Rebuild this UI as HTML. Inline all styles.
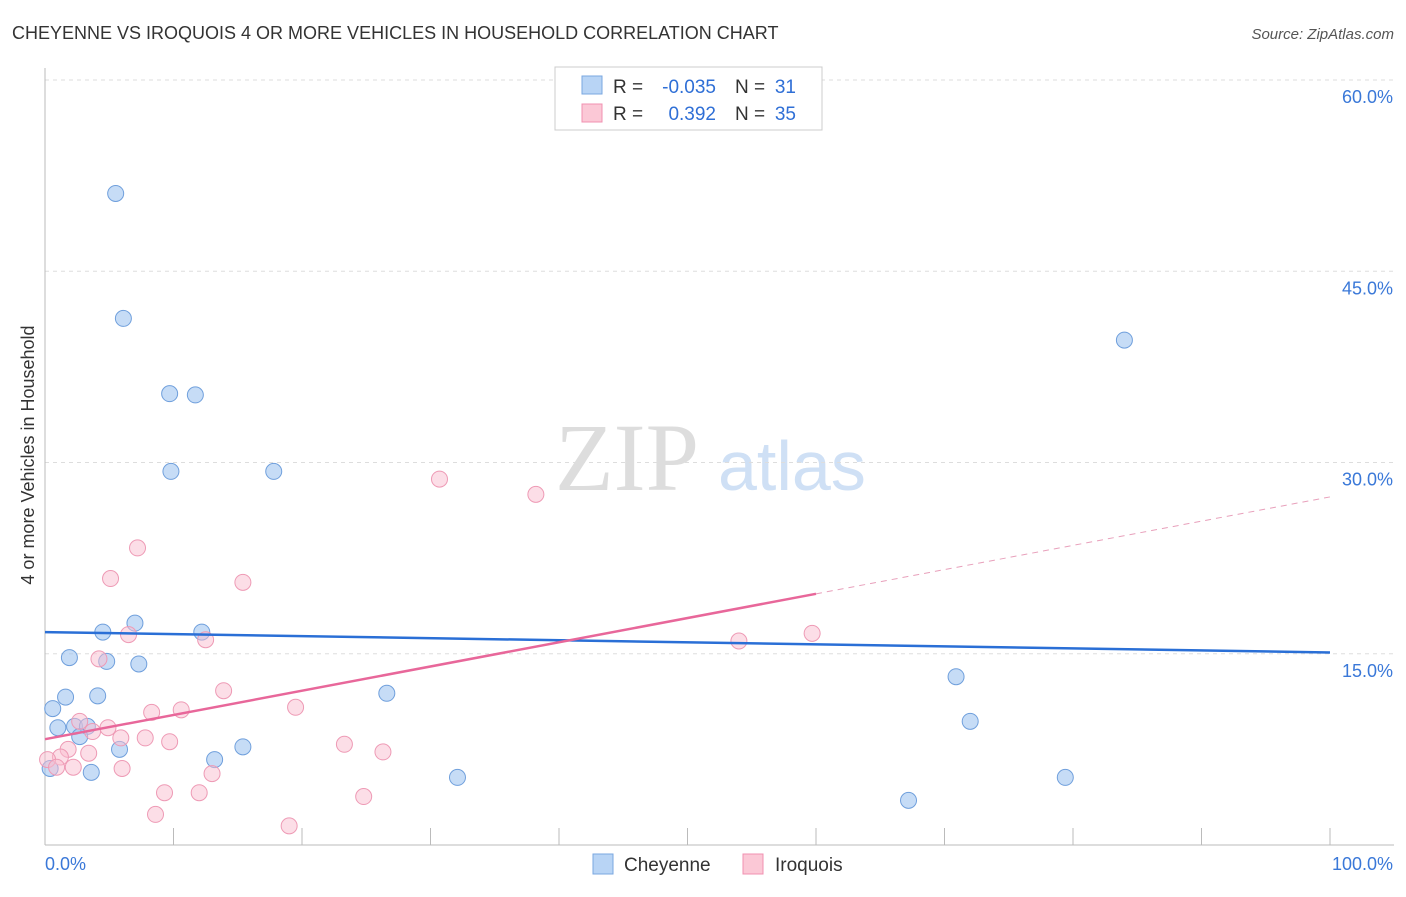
<!DOCTYPE html>
<html><head><meta charset="utf-8"><style>
body{margin:0;background:#fff;font-family:"Liberation Sans",sans-serif}
</style></head><body>
<svg width="1406" height="892" xmlns="http://www.w3.org/2000/svg" id="svg">
<text x="12" y="39" font-size="18" fill="#333">CHEYENNE VS IROQUOIS 4 OR MORE VEHICLES IN HOUSEHOLD CORRELATION CHART</text>
<text x="1394" y="39" font-size="15" fill="#555" text-anchor="end" font-style="italic">Source: ZipAtlas.com</text>
<text x="555" y="490" font-size="96" fill="#ddd" font-family="Liberation Serif">ZIP</text>
<text x="718" y="490" font-size="70" fill="#cfe0f5">atlas</text>
<text transform="translate(34,455) rotate(-90)" font-size="18" fill="#333" text-anchor="middle">4 or more Vehicles in Household</text>
<g id="grid"></g><g id="marks"></g>
<g>
<rect x="555" y="67" width="267" height="63" fill="#fff" stroke="#ccc"/>
<rect x="582" y="76" width="20" height="18" fill="#b8d4f5" stroke="#7aa7e0"/>
<rect x="582" y="104" width="20" height="18" fill="#fbc8d6" stroke="#f090b0"/>
<text x="613" y="93" font-size="19" fill="#333">R =</text>
<text x="716" y="93" font-size="19" fill="#2f6fd6" text-anchor="end">-0.035</text>
<text x="735" y="93" font-size="19" fill="#333">N =</text>
<text x="796" y="93" font-size="19" fill="#2f6fd6" text-anchor="end">31</text>
<text x="613" y="120" font-size="19" fill="#333">R =</text>
<text x="716" y="120" font-size="19" fill="#2f6fd6" text-anchor="end">0.392</text>
<text x="735" y="120" font-size="19" fill="#333">N =</text>
<text x="796" y="120" font-size="19" fill="#2f6fd6" text-anchor="end">35</text>
</g>
<g>
<rect x="593" y="854" width="20" height="20" fill="#b8d4f5" stroke="#7aa7e0"/>
<text x="624" y="871" font-size="19" fill="#333">Cheyenne</text>
<rect x="743" y="854" width="20" height="20" fill="#fbc8d6" stroke="#f090b0"/>
<text x="775" y="871" font-size="19" fill="#333">Iroquois</text>
</g>
</svg>
<script>
const yTicks=[15,30,45,60];
const yTickLabels=["15.0%","30.0%","45.0%","60.0%"];
const xTicks=[0,10,20,30,40,50,60,70,80,90,100];
const cheX=[5.5,6.1,9.7,11.7,9.8,17.8,84.0,7.0,4.5,12.2,1.9,4.8,7.3,1.6,4.1,26.6,0.6,1.0,2.3,3.3,2.7,5.8,13.2,15.4,3.6,0.4,32.1,70.9,72.0,79.4,67.2];
const cheY=[51.1,41.3,35.4,35.3,29.3,29.3,39.6,17.4,16.7,16.7,14.7,14.4,14.2,11.6,11.7,11.9,10.7,9.2,9.3,9.3,8.5,7.5,6.7,7.7,5.7,6.0,5.3,13.2,9.7,5.3,3.5];
const iroX=[30.7,38.2,7.2,5.1,15.4,6.5,12.5,54.0,59.7,4.2,13.9,19.5,10.6,8.3,2.7,4.9,3.7,5.9,7.8,9.7,23.3,26.3,1.8,3.4,1.2,0.2,0.9,2.2,6.0,13.0,9.3,12.0,24.8,8.6,19.0];
const iroY=[28.7,27.5,23.3,20.9,20.6,16.5,16.1,16.0,16.6,14.6,12.1,10.8,10.6,10.4,9.7,9.2,8.9,8.4,8.4,8.1,7.9,7.3,7.5,7.2,6.9,6.7,6.1,6.1,6.0,5.6,4.1,4.1,3.8,2.4,1.5];
const cheTrend=[16.7,15.1];
const iroTrend=[8.3,27.3];
const iroSolidEnd=60;
const X=v=>45+v*12.85, Y=v=>845-v*12.75;
const NS="http://www.w3.org/2000/svg";
function mk(t,a,p){const e=document.createElementNS(NS,t);for(const k in a)e.setAttribute(k,a[k]);p.appendChild(e);return e;}
const g=document.getElementById('grid'),m=document.getElementById('marks');
yTicks.forEach((t,i)=>{
 const l=mk('line',{x1:45,x2:1394,y1:Y(t),y2:Y(t),stroke:'#ddd','stroke-dasharray':'4,4'},g);
 
 
 const tx=mk('text',{x:1393,y:Y(t)+23,'font-size':18,fill:'#3a78d8','text-anchor':'end'},g);
 tx.textContent=yTickLabels[i];
 
 
});
const topGrid=mk('line',{x1:45,x2:1394,y1:80,y2:80,stroke:'#ddd','stroke-dasharray':'4,4'},g);


const ya=mk('line',{x1:45,x2:45,y1:68,y2:845,stroke:'#bbb'},g);


const xa=mk('line',{x1:45,x2:1394,y1:845,y2:845,stroke:'#bbb'},g);


xTicks.forEach(t=>{const l=mk('line',{x1:X(t),x2:X(t),y1:828,y2:845,stroke:'#bbb'},g);
 
 });
const xl0=mk('text',{x:45,y:870,'font-size':18,fill:'#3a78d8'},g);xl0.textContent='0.0%';


const xl1=mk('text',{x:1393,y:870,'font-size':18,fill:'#3a78d8','text-anchor':'end'},g);xl1.textContent='100.0%';


cheX.forEach((v,i)=>{const c=mk('circle',{cx:X(v),cy:Y(cheY[i]),r:8,fill:'rgba(160,196,240,0.6)',stroke:'#6f9fdc','stroke-width':1},m);
 
 });
iroX.forEach((v,i)=>{const c=mk('circle',{cx:X(v),cy:Y(iroY[i]),r:8,fill:'rgba(250,190,208,0.5)',stroke:'#ee9ab5','stroke-width':1},m);
 
 });
const bt=mk('line',{x1:X(0),y1:Y(cheTrend[0]),x2:X(100),y2:Y(cheTrend[1]),stroke:'#2a6fd6','stroke-width':2.5},m);


const iy=x=>iroTrend[0]+(iroTrend[1]-iroTrend[0])*x/100;
const pt=mk('line',{x1:X(0),y1:Y(iy(0)),x2:X(iroSolidEnd),y2:Y(iy(iroSolidEnd)),stroke:'#e8679a','stroke-width':2.5},m);


const pd=mk('line',{x1:X(iroSolidEnd),y1:Y(iy(iroSolidEnd)),x2:X(100),y2:Y(iy(100)),stroke:'#e8a0bb','stroke-width':1,'stroke-dasharray':'6,5'},m);


</script>
</body></html>
